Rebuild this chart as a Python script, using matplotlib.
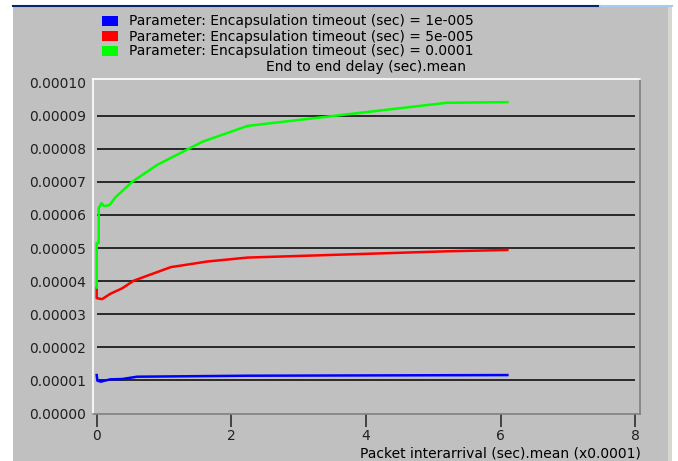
import matplotlib
matplotlib.use("Agg")
import matplotlib.pyplot as plt
from matplotlib.patches import Rectangle
from matplotlib.lines import Line2D


# data (x in units of 0.0001 sec, y in sec)
blue_x = [0, 0.01, 0.06, 0.2, 0.38, 0.6, 2.24, 6.1]
blue_y = [1.15e-5, 0.98e-5, 0.95e-5, 1.02e-5, 1.03e-5, 1.10e-5, 1.13e-5, 1.15e-5]

red_x = [0, 0, 0.08, 0.2, 0.38, 0.55, 1.1, 1.64, 2.24, 5.2, 6.1]
red_y = [3.79e-5, 3.48e-5, 3.45e-5, 3.61e-5, 3.78e-5, 4.01e-5, 4.42e-5, 4.59e-5,
         4.71e-5, 4.90e-5, 4.94e-5]

green_x = [0, 0, 0.03, 0.03, 0.07, 0.11, 0.19, 0.28, 0.53, 0.9, 1.35, 1.57, 2.24,
           5.2, 6.1]
green_y = [3.8e-5, 5.15e-5, 5.15e-5, 6.2e-5, 6.36e-5, 6.27e-5, 6.3e-5, 6.54e-5,
           7.01e-5, 7.52e-5, 7.99e-5, 8.22e-5, 8.70e-5, 9.40e-5, 9.42e-5]

labels = ["Parameter: Encapsulation timeout (sec) = 1e-005",
          "Parameter: Encapsulation timeout (sec) = 5e-005",
          "Parameter: Encapsulation timeout (sec) = 0.0001"]
colors = ["#0000ff", "#ff0000", "#00ff00"]

yticks = [0, 1e-5, 2e-5, 3e-5, 4e-5, 5e-5, 6e-5, 7e-5, 8e-5, 9e-5, 1e-4]
ytick_labels = ["0.00000", "0.00001", "0.00002", "0.00003", "0.00004", "0.00005",
                "0.00006", "0.00007", "0.00008", "0.00009", "0.00010"]
xticks = [0, 2, 4, 6, 8]

W, H = 678, 461
gray = "#c0c0c0"

fig = plt.figure(figsize=(W/100, H/100), dpi=100, facecolor="white")

def fx(px):
    return px/W

def fy(py):
    return 1 - py/H

# gray window panel with its top bar line and right edge
fig.patches.append(Rectangle((fx(13), 0), fx(668)-fx(13), fy(6), transform=fig.transFigure,
                             facecolor=gray, edgecolor="none", zorder=-2))
fig.patches.append(Rectangle((fx(668), 0), fx(4), fy(6), transform=fig.transFigure,
                             facecolor="#d8d6d0", edgecolor="none", zorder=-2))
fig.lines.append(Line2D([fx(13), fx(600)], [fy(6), fy(6)], transform=fig.transFigure,
                        color="#0a246a", lw=1.5, zorder=-1))
fig.lines.append(Line2D([fx(600), fx(672)], [fy(6), fy(6)], transform=fig.transFigure,
                        color="#a6caf0", lw=1.5, zorder=-1))

# legend squares and texts
for i in range(3):
    yc = 21.5 + 15*i
    fig.patches.append(Rectangle((fx(102), fy(yc+5)), fx(16), 10/H, transform=fig.transFigure,
                                 facecolor=colors[i], edgecolor="none", zorder=2))
    fig.text(fx(129), fy(yc), labels[i], fontsize=10, va="center", ha="left", color="black")

ax = fig.add_axes([fx(93), fy(414), fx(640)-fx(93), (414-79)/H])
ax.set_zorder(3)
ax.set_facecolor(gray)

ax.plot(blue_x, blue_y, color=colors[0], lw=1.8, zorder=3)
ax.plot(red_x, red_y, color=colors[1], lw=1.8, zorder=3)
ax.plot(green_x, green_y, color=colors[2], lw=1.8, zorder=3)

# horizontal grid lines (not quite full width, as in the original)
ax.hlines(yticks[1:-1], 0.0, 8.0, color="black", lw=1.1, zorder=2)

ax.set_xlim(-0.055, 8.07)
ax.set_ylim(-0.03e-5, 1.0121e-4)

ax.set_yticks(yticks)
ax.set_yticklabels(ytick_labels)
ax.set_xticks(xticks)
ax.set_xticklabels([str(t) for t in xticks])
ax.tick_params(axis="y", length=0, pad=5, labelsize=10, labelcolor="#202020")
ax.tick_params(axis="x", length=9, width=1.1, pad=2, labelsize=10, direction="out",
               colors="#202020")

ax.spines["left"].set_color("white")
ax.spines["top"].set_color("white")
ax.spines["right"].set_color("#808080")
ax.spines["bottom"].set_color("#808080")
for s in ax.spines.values():
    s.set_linewidth(1.2)

ax.set_title("End to end delay (sec).mean", fontsize=10, pad=6)
fig.text(fx(641), fy(453), "Packet interarrival (sec).mean (x0.0001)", fontsize=10,
         ha="right", va="center")

fig.savefig("out.png", dpi=100, facecolor="white")
